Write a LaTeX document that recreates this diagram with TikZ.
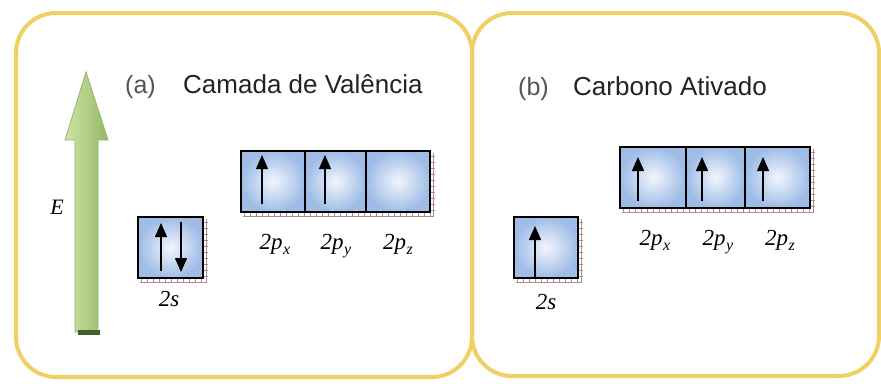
\documentclass[tikz,border=0pt]{standalone}
\usepackage{fontspec}
\setmainfont{Liberation Serif}
\setsansfont{Liberation Sans}
\usetikzlibrary{arrows.meta}
\definecolor{framec}{RGB}{240,208,100}
\definecolor{celledge}{RGB}{158,188,230}
\definecolor{cellmid}{RGB}{242,246,252}
\definecolor{shadowc}{RGB}{178,140,140}
\definecolor{greenL}{RGB}{208,228,165}
\definecolor{greenD}{RGB}{146,186,98}
\definecolor{greenLine}{RGB}{150,180,110}
\definecolor{greenDark}{RGB}{70,95,45}
\definecolor{titlec}{RGB}{35,35,35}
\definecolor{parenc}{RGB}{85,85,85}
\tikzset{
  panel/.style={draw=framec, line width=4pt, rounded corners=40pt},
  cellshade/.style={inner color=cellmid, outer color=celledge},
  boxline/.style={draw=black, line width=2pt},
  elec/.style={line width=1.4pt, -{Triangle[width=12pt,length=14pt]}},
  title/.style={font=\sffamily\fontsize{26}{30}\selectfont, text=titlec, inner sep=0pt, anchor=base west},
  paren/.style={font=\sffamily\fontsize{25}{30}\selectfont, text=parenc, inner sep=0pt, anchor=base west},
  orblabel/.style={font=\itshape\fontsize{23}{26}\selectfont, inner sep=0pt, anchor=base}
}
\newcommand\orbsub[1]{2p\kern0.5pt\raisebox{-5pt}{\fontsize{16}{16}\selectfont #1}}
\newcommand\tickshadow[4]{%
  \pgfmathsetmacro\shw{#3-#1}\pgfmathsetmacro\shh{#4-#2}%
  \draw[shadowc, line width=0.9pt] (#1+2,#4+4.5) -- (#3+3.5,#4+4.5) -- (#3+3.5,#2+2);
  \foreach \t in {3,9,...,\shw} {\draw[shadowc, line width=0.8pt] (#1+\t,#4) -- (#1+\t,#4+5);}
  \foreach \t in {5,11,...,\shh} {\draw[shadowc, line width=0.8pt] (#3,#2+\t) -- (#3+4.5,#2+\t);}
}
\begin{document}
\begin{tikzpicture}[x=1pt,y=-1pt]
\useasboundingbox (0,0) rectangle (881,383);
\fill[white] (0,0) rectangle (881,383);
% panels
\draw[panel] (16,13) rectangle (472,377);
\draw[panel] (472,13) rectangle (879,376);
% energy arrow
\shade[left color=greenL, right color=greenD, draw=greenLine, line width=0.8pt]
  (75,140) -- (65,140) -- (86,72) -- (108,140) -- (98,140) -- (98,332) -- (75,332) -- cycle;
\fill[greenDark] (78,330) rectangle (100,335);
\node[font=\itshape\fontsize{22}{24}\selectfont, inner sep=0pt] (E) at (57,207) {E};
% titles
\node[paren] (pa) at (125,93) {(a)};
\node[title] (ta) at (183,93) {Camada de Valência};
\node[paren] (pb) at (518,95) {(b)};
\node[title] (tb) at (573,95) {Carbono Ativado};
% ---- left panel: 2s
\tickshadow{138}{217}{203}{278}
\shade[cellshade] (138,217) rectangle (203,278);
\draw[boxline] (138,217) rectangle (203,278);
\draw[elec] (161,271) -- (161,223);
\draw[elec] (181,222) -- (181,272);
% ---- left panel: 2p
\tickshadow{241}{151}{430}{212}
\shade[cellshade] (241,151) rectangle (305,212);
\shade[cellshade] (305,151) rectangle (366,212);
\shade[cellshade] (366,151) rectangle (430,212);
\draw[boxline] (241,151) rectangle (430,212);
\draw[line width=1.3pt] (305,151) -- (305,212) (366,151) -- (366,212);
\draw[elec] (262,204) -- (262,155);
\draw[elec] (325,204) -- (325,155);
% ---- right panel: 2s
\tickshadow{514}{217}{578}{278}
\shade[cellshade] (514,217) rectangle (578,278);
\draw[boxline] (514,217) rectangle (578,278);
\draw[elec] (535,277) -- (535,226);
% ---- right panel: 2p
\tickshadow{620}{147}{810}{208}
\shade[cellshade] (620,147) rectangle (686,208);
\shade[cellshade] (686,147) rectangle (745,208);
\shade[cellshade] (745,147) rectangle (810,208);
\draw[boxline] (620,147) rectangle (810,208);
\draw[line width=1.3pt] (686,147) -- (686,208) (745,147) -- (745,208);
\draw[elec] (638,201) -- (638,157);
\draw[elec] (702,201) -- (702,157);
\draw[elec] (763,201) -- (763,157);
% labels
\node[orblabel] (ls) at (169,306) {2s};
\node[orblabel] (lpx) at (275,249) {\orbsub{x}};
\node[orblabel] (lpy) at (336,249) {\orbsub{y}};
\node[orblabel] (lpz) at (398,249) {\orbsub{z}};
\node[orblabel] (rs) at (546,309) {2s};
\node[orblabel] (rpx) at (655,245) {\orbsub{x}};
\node[orblabel] (rpy) at (718,245) {\orbsub{y}};
\node[orblabel] (rpz) at (780,245) {\orbsub{z}};
\end{tikzpicture}
\end{document}
